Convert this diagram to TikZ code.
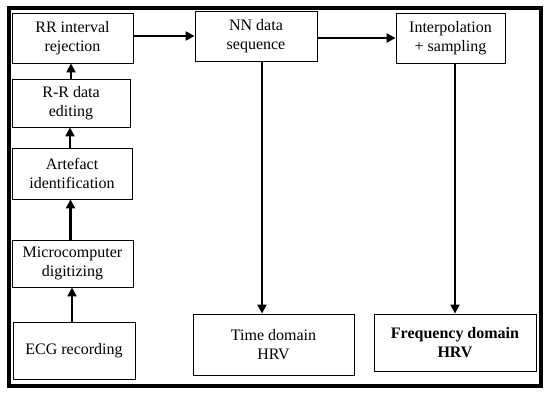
\documentclass[tikz,border=0pt]{standalone}
\usepackage{fontspec}
\setmainfont{Liberation Serif}
\usetikzlibrary{arrows.meta,positioning,calc}

\begin{document}
\begin{tikzpicture}[x=1pt,y=-1pt,
    blk/.style={draw=black, line width=0.9pt, align=center, inner sep=0pt,
      font=\fontsize{16}{19}\selectfont},
    flow/.style={draw=black, line width=2.8pt, -{Triangle[length=9pt,width=9pt]}}]
  \useasboundingbox[fill=white] (0,0) rectangle (550,396);
  \draw[line width=4.5pt] (9,8) rectangle (541,386);

  % left column
  \node[blk, minimum width=121, minimum height=50] (rrrej) at (72.5,38) {RR interval\\rejection};
  \node[blk, minimum width=118, minimum height=48] (rredit) at (71,103) {R-R data\\editing};
  \node[blk, minimum width=120, minimum height=51] (artef) at (72,173.5) {Artefact\\identification};
  \node[blk, minimum width=121, minimum height=47] (micro) at (72.5,263.5) {Microcomputer\\digitizing};
  \node[blk, minimum width=122, minimum height=57] (ecg) at (74,350.5) {ECG recording};

  % top row and results
  \node[blk, minimum width=122, minimum height=50] (nnseq) at (256,36) {NN data\\sequence};
  \node[blk, minimum width=109, minimum height=50] (interp) at (450.5,38) {Interpolation\\+ sampling};
  \node[blk, minimum width=161, minimum height=61] (timehrv) at (273.5,344.5) {Time domain\\HRV};
  \node[blk, minimum width=162, minimum height=57, font=\fontsize{16}{19}\selectfont\bfseries] (freqhrv) at (455,342.5) {Frequency domain\\HRV};

  \draw[flow] ([xshift=-2]ecg.north) -- ([xshift=-2]ecg.north |- micro.south);
  \draw[flow] ([xshift=-2]micro.north) -- ([xshift=-2]micro.north |- artef.south);
  \draw[flow] ([xshift=-2]artef.north) -- ([xshift=-2]artef.north |- rredit.south);
  \draw[flow] (rredit.north) -- (rredit.north |- rrrej.south);
  \draw[flow] (rrrej.east |- nnseq.west) -- (nnseq.west);
  \draw[flow] ([yshift=-2]nnseq.east) -- ([yshift=-2]nnseq.east -| interp.west);
  \draw[flow] ([xshift=6]nnseq.south) -- ([xshift=6]nnseq.south |- timehrv.north);
  \draw[flow] (interp.south -| freqhrv.north) -- (freqhrv.north);
\end{tikzpicture}
\end{document}
